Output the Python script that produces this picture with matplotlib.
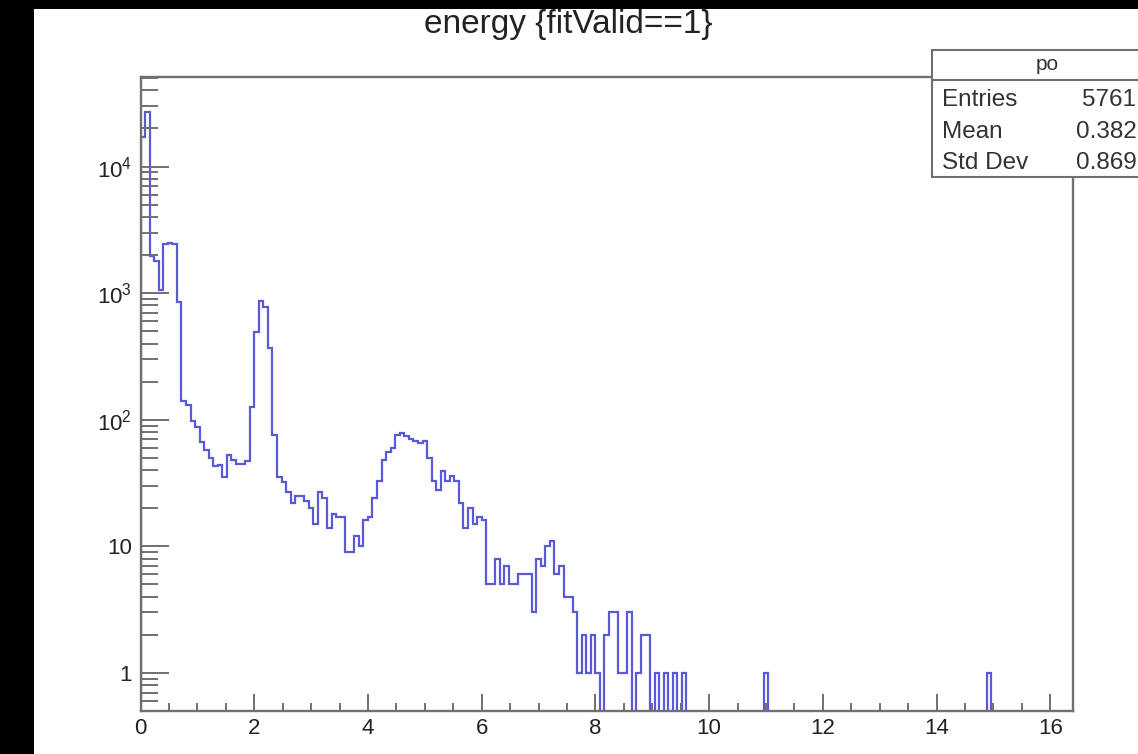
import numpy as np
import matplotlib
matplotlib.use("Agg")
import matplotlib.pyplot as plt
from matplotlib.patches import Rectangle
from matplotlib.lines import Line2D
from matplotlib.ticker import MultipleLocator, LogLocator, FuncFormatter, NullFormatter

plt.rcParams['font.family'] = ['Liberation Sans', 'DejaVu Sans']
plt.rcParams['mathtext.default'] = 'regular'

# histogram binning (energy axis) and counts per bin
x_min, x_max, n_bins = 0.0, 16.4, 205
counts = [
    17000, 27000, 1950, 1800, 1050, 2450, 2500, 2450, 850, 140,
    130, 97, 88, 67, 58, 50, 43, 44, 35, 53,
    48, 45, 45, 47, 127, 490, 860, 780, 370, 76,
    35, 32, 27, 22, 25, 25, 23, 20, 15, 27,
    24, 14, 18, 17, 17, 9, 9, 12, 10, 16,
    17, 24, 33, 48, 56, 60, 76, 78, 74, 70,
    68, 66, 68, 50, 33, 28, 39, 33, 36, 33,
    22, 14, 20, 15, 17, 16, 5, 5, 8, 5,
    7, 5, 5, 6, 6, 6, 3, 8, 7, 10,
    11, 6, 7, 4, 4, 3, 1, 2, 1, 2,
    1, 0, 2, 3, 3, 1, 1, 3, 0, 1,
    2, 2, 0, 1, 0, 1, 0, 1, 0, 1,
    0, 0, 0, 0, 0, 0, 0, 0, 0, 0,
    0, 0, 0, 0, 0, 0, 0, 1, 0, 0,
    0, 0, 0, 0, 0, 0, 0, 0, 0, 0,
    0, 0, 0, 0, 0, 0, 0, 0, 0, 0,
    0, 0, 0, 0, 0, 0, 0, 0, 0, 0,
    0, 0, 0, 0, 0, 0, 0, 0, 0, 0,
    0, 0, 0, 0, 0, 0, 1, 0, 0, 0,
    0, 0, 0, 0, 0, 0, 0, 0, 0, 0,
    0, 0, 0, 0, 0,
]

title = "energy {fitValid==1}"
stat_header = "po"
stat_names = ["Entries", "Mean", "Std Dev"]
stat_values = ["5761", "0.382", "0.869"]

W, H = 1138, 754
fig = plt.figure(figsize=(W / 100, H / 100), dpi=100, facecolor='black')
# white canvas, the screenshot has a black band left and top
fig.add_artist(Rectangle((34 / W, 0), 1 - 34 / W, 1 - 9 / H, transform=fig.transFigure,
                         facecolor='white', edgecolor='none', zorder=-10))

ax = fig.add_axes([140.5 / W, 43 / H, (1073 - 140.5) / W, (711 - 77) / H])
ax.set_facecolor('white')

edges = np.linspace(x_min, x_max, n_bins + 1)
vals = np.array(counts, dtype=float)
floor = 1e-3  # empty bins drop to the bottom of the log axis
ax.stairs(np.where(vals > 0, vals, floor), edges, baseline=floor,
          color='#5a5ad4', lw=1.6)

ax.set_yscale('log')
ax.set_xlim(x_min, x_max)
ax.set_ylim(0.5, 5.1e4)

frame_col = '#707070'
for s in ax.spines.values():
    s.set_color(frame_col)
    s.set_linewidth(1.7)

ax.xaxis.set_major_locator(MultipleLocator(2))
ax.xaxis.set_minor_locator(MultipleLocator(0.5))
ax.yaxis.set_major_locator(LogLocator(base=10, numticks=10))
ax.yaxis.set_minor_locator(LogLocator(base=10, subs=np.arange(2, 10), numticks=20))


def ylab(v, pos):
    e = int(round(np.log10(v)))
    if e == 0:
        return '1'
    if e == 1:
        return '10'
    return '$10^{%d}$' % e


ax.yaxis.set_major_formatter(FuncFormatter(ylab))
ax.yaxis.set_minor_formatter(NullFormatter())

ax.tick_params(axis='x', which='major', direction='in', length=12, width=1.4,
               color=frame_col, labelsize=16, pad=5, labelcolor='#222')
ax.tick_params(axis='x', which='minor', direction='in', length=6, width=1.4, color=frame_col)
ax.tick_params(axis='y', which='major', direction='in', length=20, width=1.4,
               color=frame_col, labelsize=16, pad=6, labelcolor='#222')
ax.tick_params(axis='y', which='minor', direction='in', length=12, width=1.4, color=frame_col)

fig.text(568 / W, 1 - 25 / H, title, ha='center', va='center', fontsize=24, color='#222')

# stats box (cut at the right edge of the screenshot)
bx0, bx1, by0, by1, bsep = 932, 1170, 50, 177, 80
fig.add_artist(Rectangle((bx0 / W, 1 - by1 / H), (bx1 - bx0) / W, (by1 - by0) / H,
                         transform=fig.transFigure, facecolor='white',
                         edgecolor=frame_col, lw=1.5, zorder=5))
fig.add_artist(Line2D([bx0 / W, 1], [1 - bsep / H] * 2, transform=fig.transFigure,
                      color=frame_col, lw=1.5, zorder=6))
fig.text(1047 / W, 1 - 65 / H, stat_header, ha='center', va='center', fontsize=15,
         color='#333', zorder=7)
for i, (n, v) in enumerate(zip(stat_names, stat_values)):
    y = 1 - (100 + 31.5 * i) / H
    fig.text(942 / W, y, n, ha='left', va='center', fontsize=17.5, color='#333', zorder=7)
    fig.text((1082 if i == 0 else 1076) / W, y, v, ha='left', va='center', fontsize=17.5,
             color='#333', zorder=7)

fig.savefig('out.png', dpi=100, facecolor='black')
